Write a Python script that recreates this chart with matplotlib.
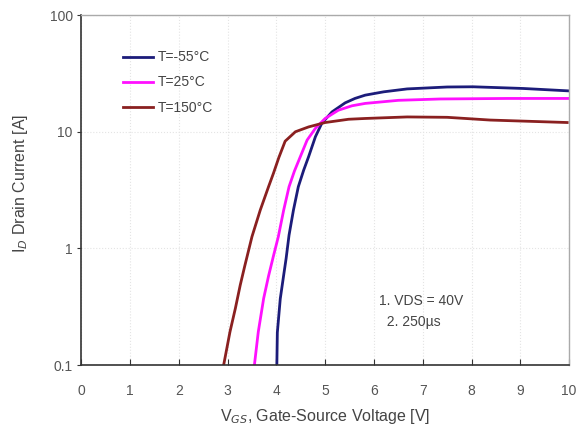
import matplotlib
matplotlib.use('Agg')
import matplotlib.pyplot as plt

plt.rcParams['font.family'] = ['Liberation Sans', 'DejaVu Sans']

# T = -55 C
vgs_m55 = [4.01, 4.02, 4.08, 4.15, 4.20, 4.26, 4.35, 4.45, 4.56, 4.66, 4.80, 4.93, 5.14, 5.41, 5.61, 5.82, 6.2, 6.68, 7.5, 8.03, 9.06, 10.0]
id_m55 = [0.1, 0.19, 0.37, 0.59, 0.82, 1.3, 2.13, 3.38, 4.69, 6.1, 9.06, 11.8, 14.8, 17.7, 19.3, 20.6, 22.0, 23.3, 24.2, 24.3, 23.5, 22.4]

# T = 25 C
vgs_25 = [3.55, 3.63, 3.74, 3.84, 3.94, 4.04, 4.15, 4.26, 4.37, 4.49, 4.63, 4.80, 5.0, 5.27, 5.55, 5.82, 6.5, 7.36, 8.73, 10.0]
id_25 = [0.1, 0.193, 0.373, 0.58, 0.86, 1.26, 2.13, 3.38, 4.6, 6.1, 8.48, 10.7, 13.0, 15.3, 16.7, 17.5, 18.6, 19.1, 19.3, 19.3]

# T = 150 C
vgs_150 = [2.92, 3.05, 3.16, 3.26, 3.35, 3.50, 3.67, 3.84, 3.94, 4.05, 4.18, 4.39, 4.66, 5.0, 5.48, 5.82, 6.68, 7.5, 8.38, 9.96]
id_150 = [0.1, 0.193, 0.306, 0.485, 0.70, 1.26, 2.13, 3.38, 4.4, 6.0, 8.3, 10.0, 11.0, 12.0, 12.8, 13.0, 13.4, 13.3, 12.6, 12.0]

x_ticks = list(range(0, 11))
y_ticks = [0.1, 1, 10, 100]
y_tick_labels = ['0.1', '1', '10', '100']

fig = plt.figure(figsize=(5.88, 4.32), dpi=100)
ax = fig.add_axes([0.138, 0.155, 0.830, 0.810])

ax.plot(vgs_m55, id_m55, color='#1c1c7a', lw=2.0, label='T=-55°C')
ax.plot(vgs_25, id_25, color='#ff10ff', lw=2.0, label='T=25°C')
ax.plot(vgs_150, id_150, color='#8a2020', lw=2.0, label='T=150°C')

ax.set_yscale('log')
ax.set_xlim(0, 10)
ax.set_ylim(0.1, 100)
ax.set_xticks(x_ticks)
ax.set_yticks(y_ticks)
ax.set_yticklabels(y_tick_labels)
ax.minorticks_off()

ax.tick_params(axis='x', direction='in', length=4, pad=14, labelsize=10, colors='#333333', labelcolor='#555555')
ax.tick_params(axis='y', direction='out', length=3, pad=3, labelsize=10, colors='#333333', labelcolor='#555555')

ax.grid(True, which='major', color='#e4e4e4', linestyle=':', linewidth=0.8)

for s in ['left', 'bottom']:
    ax.spines[s].set_color('#333333')
    ax.spines[s].set_linewidth(1.2)
for s in ['top', 'right']:
    ax.spines[s].set_color('#aaaaaa')
    ax.spines[s].set_linewidth(1.0)

ax.set_xlabel('V$_{GS}$, Gate-Source Voltage [V]', fontsize=11.5, color='#444444', labelpad=6)
ax.set_ylabel('I$_D$ Drain Current [A]', fontsize=11.5, color='#444444')
ax.yaxis.set_label_coords(-0.105, 0.52)

leg = ax.legend(loc='upper left', bbox_to_anchor=(0.06, 0.935), frameon=False,
                fontsize=10, handlelength=2.2, handletextpad=0.3, labelspacing=0.8)
for t in leg.get_texts():
    t.set_color('#444444')

ax.text(0.61, 0.153, '1. VDS = 40V\n  2. 250\u00b5s', transform=ax.transAxes,
        fontsize=10, color='#444444', va='center', ha='left', linespacing=1.65)

fig.savefig('out.png', dpi=100)
